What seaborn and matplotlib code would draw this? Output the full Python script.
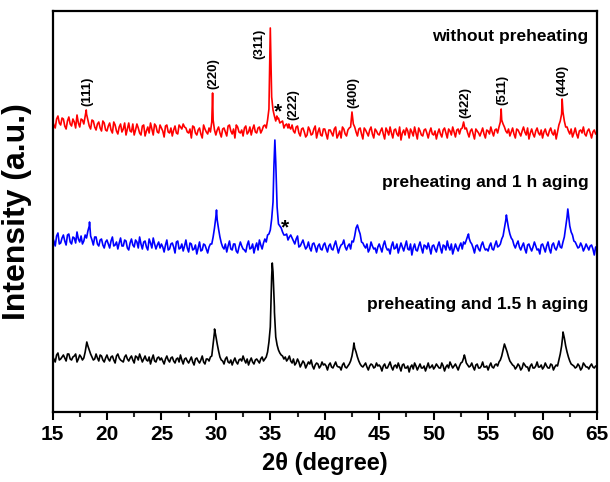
import numpy as np
import pandas as pd
import matplotlib
matplotlib.use("Agg")
import matplotlib.pyplot as plt
import seaborn as sns

# ---------------- data ----------------
# intensities (a.u., already offset per pattern) sampled every 0.25 deg from 15,
# plus readings halfway between (15.125, 15.375, ...) and the peak tops.
two_theta_start = 15.0
two_theta_step = 0.25

red_grid = [
    291, 284, 296, 287, 293, 283, 295, 286, 290, 297, 285, 292, 296, 292, 283, 291, 282, 290, 281, 289,
    281, 289, 279, 287, 278, 288, 283, 277, 289, 280, 277, 288, 279, 286, 276, 285, 289, 277, 286, 279,
    284, 275, 287, 279, 276, 286, 278, 285, 288, 284, 279, 274, 285, 277, 284, 274, 283, 278, 280, 292,
    277, 285, 275, 284, 276, 287, 278, 274, 285, 279, 276, 286, 280, 277, 287, 279, 285, 282, 287, 292,
    384, 302, 291, 294, 290, 284, 288, 285, 287, 279, 286, 276, 284, 275, 285, 277, 283, 274, 284, 276,
    283, 273, 282, 276, 285, 277, 274, 283, 276, 284, 300, 285, 276, 284, 273, 282, 276, 285, 274, 281,
    277, 284, 273, 281, 285, 274, 283, 276, 272, 282, 284, 274, 280, 285, 273, 281, 276, 283, 274, 284,
    277, 273, 283, 275, 284, 274, 281, 285, 275, 283, 283, 290, 284, 275, 283, 273, 281, 276, 284, 274,
    281, 285, 276, 283, 285, 292, 285, 279, 276, 284, 274, 282, 276, 285, 277, 273, 283, 275, 284, 277,
    274, 283, 276, 284, 277, 273, 287, 298, 291, 285, 278, 275, 284, 274, 282, 285, 276, 283, 274, 282,
    280,
]
red_mid = [
    287, 293, 289, 294, 286, 291, 288, 293, 284, 289, 293, 288, 298, 286, 292, 285, 288, 284, 291, 282,
    286, 282, 290, 281, 285, 280, 289, 283, 281, 288, 282, 284, 277, 287, 281, 279, 283, 288, 280, 287,
    281, 286, 280, 284, 282, 279, 287, 283, 285, 280, 283, 286, 279, 282, 278, 287, 280, 284, 290, 282,
    282, 279, 283, 280, 286, 281, 283, 287, 280, 282, 284, 278, 285, 283, 280, 284, 279, 286, 284, 303,
    315, 296, 293, 289, 291, 287, 284, 283, 281, 285, 279, 283, 280, 277, 282, 278, 286, 280, 277, 283,
    278, 282, 279, 283, 274, 281, 285, 278, 282, 285, 288, 280, 283, 278, 284, 279, 282, 278, 283, 278,
    281, 278, 284, 277, 279, 282, 278, 285, 279, 277, 281, 283, 276, 279, 284, 277, 282, 279, 280, 278,
    281, 279, 278, 282, 279, 283, 277, 280, 282, 278, 284, 283, 279, 281, 278, 283, 279, 280, 278, 282,
    278, 280, 282, 279, 290, 288, 281, 283, 280, 278, 283, 279, 281, 280, 284, 279, 278, 281, 279, 282,
    280, 278, 281, 279, 282, 280, 291, 300, 285, 281, 283, 279, 278, 281, 279, 278, 281, 279, 280, 278,
]
red_peak_x = [18.1, 29.7, 34.9, 35.1, 35.6, 36.7, 56.2, 61.8]
red_peak_y = [302, 319, 320, 325, 296, 288, 303, 313]

blue_grid = [
    175, 166, 179, 169, 177, 167, 178, 168, 174, 180, 170, 168, 177, 181, 176, 167, 175, 166, 173, 164,
    172, 164, 175, 167, 163, 174, 166, 171, 162, 173, 165, 170, 175, 163, 171, 162, 169, 174, 163, 170,
    168, 160, 172, 163, 169, 159, 171, 164, 161, 172, 160, 168, 163, 158, 170, 162, 167, 159, 168, 175,
    195, 183, 169, 163, 160, 171, 162, 168, 159, 170, 163, 160, 171, 164, 159, 169, 172, 163, 173, 177,
    182, 210, 250, 188, 184, 177, 178, 175, 174, 168, 176, 166, 172, 163, 170, 161, 169, 160, 168, 162,
    169, 160, 168, 162, 171, 159, 167, 172, 162, 168, 171, 176, 187, 178, 169, 164, 160, 170, 163, 159,
    168, 160, 171, 162, 158, 170, 164, 159, 169, 161, 171, 162, 157, 168, 161, 170, 159, 166, 169, 158,
    167, 160, 170, 159, 166, 171, 162, 158, 168, 161, 169, 170, 172, 174, 168, 159, 167, 161, 170, 162,
    161, 169, 162, 171, 166, 173, 184, 192, 178, 172, 164, 171, 162, 169, 159, 168, 161, 170, 162, 158,
    168, 160, 170, 159, 169, 162, 171, 164, 175, 195, 186, 177, 170, 164, 169, 161, 168, 162, 167, 157,
    163,
]
blue_mid = [
    171, 176, 168, 174, 171, 177, 170, 175, 169, 173, 176, 171, 174, 186, 172, 175, 168, 172, 167, 170,
    168, 171, 166, 170, 169, 166, 172, 164, 169, 167, 172, 164, 168, 170, 165, 173, 164, 168, 167, 164,
    165, 167, 162, 168, 165, 170, 163, 168, 166, 164, 169, 162, 167, 164, 161, 168, 163, 165, 168, 184,
    192, 175, 165, 168, 166, 163, 168, 161, 165, 166, 162, 167, 163, 168, 165, 162, 167, 169, 170, 178,
    193, 258, 205, 186, 180, 177, 172, 177, 171, 173, 165, 169, 167, 165, 164, 168, 165, 166, 163, 167,
    164, 166, 163, 167, 165, 164, 168, 165, 166, 163, 170, 184, 182, 170, 166, 168, 163, 166, 164, 165,
    164, 167, 165, 163, 166, 163, 168, 164, 165, 166, 163, 168, 164, 162, 166, 164, 167, 163, 164, 166,
    163, 166, 164, 167, 162, 165, 168, 163, 164, 166, 163, 168, 176, 170, 164, 166, 163, 167, 165, 163,
    166, 163, 167, 165, 168, 176, 192, 184, 174, 167, 168, 165, 166, 163, 167, 164, 165, 166, 163, 167,
    164, 166, 163, 167, 164, 166, 165, 170, 185, 198, 180, 171, 167, 165, 166, 164, 165, 166, 163, 165,
]
blue_peak_x = [18.4, 30.06, 35.33, 35.42, 35.6, 53.2, 56.68, 62.32]
blue_peak_y = [190, 202, 245, 272, 215, 178, 197, 203]

black_grid = [
    56, 50, 59, 53, 57, 51, 58, 52, 56, 50, 57, 52, 60, 66, 58, 52, 58, 51, 56, 50,
    57, 51, 56, 49, 58, 52, 50, 57, 51, 56, 49, 55, 58, 50, 56, 51, 48, 57, 50, 55,
    54, 48, 56, 50, 55, 49, 54, 57, 48, 54, 49, 55, 47, 54, 49, 56, 48, 53, 55, 68,
    76, 61, 52, 48, 55, 49, 47, 54, 48, 53, 56, 49, 47, 54, 48, 53, 49, 55, 53, 60,
    85, 140, 75, 62, 57, 53, 51, 56, 49, 47, 53, 45, 51, 44, 50, 52, 43, 49, 44, 50,
    48, 42, 49, 44, 50, 45, 42, 49, 44, 48, 56, 64, 55, 48, 45, 49, 42, 48, 44, 49,
    47, 41, 48, 44, 50, 42, 47, 49, 41, 48, 44, 40, 47, 49, 42, 48, 44, 41, 49, 45,
    43, 48, 44, 49, 41, 47, 50, 44, 48, 42, 49, 54, 49, 45, 49, 42, 48, 44, 50, 45,
    42, 49, 44, 48, 50, 56, 68, 60, 51, 47, 43, 48, 42, 49, 45, 41, 48, 44, 50, 45,
    43, 49, 44, 48, 42, 47, 52, 66, 74, 60, 51, 47, 44, 48, 42, 49, 45, 43, 48, 44,
    46,
]
black_mid = [
    53, 57, 52, 55, 54, 58, 53, 55, 58, 53, 55, 54, 68, 62, 55, 53, 54, 57, 52, 54,
    53, 55, 52, 56, 54, 51, 55, 53, 54, 52, 56, 52, 54, 53, 52, 55, 53, 51, 54, 52,
    51, 53, 52, 54, 51, 53, 50, 52, 53, 51, 52, 50, 53, 51, 52, 50, 53, 51, 56, 80,
    68, 55, 51, 53, 50, 52, 51, 50, 52, 51, 52, 53, 51, 50, 52, 51, 53, 51, 55, 70,
    135, 105, 67, 59, 56, 55, 53, 51, 53, 49, 50, 48, 49, 47, 48, 46, 47, 48, 46, 47,
    46, 47, 45, 47, 46, 45, 47, 45, 46, 51, 64, 60, 51, 46, 47, 45, 46, 47, 45, 46,
    45, 46, 44, 47, 45, 46, 44, 45, 47, 44, 46, 45, 43, 46, 45, 44, 46, 45, 44, 47,
    45, 46, 44, 46, 45, 44, 47, 46, 45, 46, 50, 55, 47, 46, 45, 47, 44, 46, 45, 46,
    46, 45, 47, 46, 52, 62, 64, 55, 49, 46, 45, 46, 44, 47, 45, 46, 44, 46, 45, 47,
    45, 46, 44, 47, 45, 46, 58, 78, 66, 55, 48, 46, 45, 46, 44, 47, 45, 46, 45, 46,
]
black_peak_x = [18.15, 29.88, 35.1, 35.18, 35.38, 42.68, 52.82, 61.88]
black_peak_y = [70, 83, 125, 149, 100, 69, 57, 80]

series_names = ["without preheating", "preheating and 1 h aging", "preheating and 1.5 h aging"]
series_colors = ["#ff0000", "#0000ff", "#000000"]

hkl_labels = ["(111)", "(220)", "(311)", "(222)", "(400)", "(422)", "(511)", "(440)"]
x_ticks = [15, 20, 25, 30, 35, 40, 45, 50, 55, 60, 65]

# ---------------- build table ----------------
def build(grid, mid, px, py, name):
    gx = two_theta_start + two_theta_step * np.arange(len(grid))
    mx = two_theta_start + two_theta_step * (np.arange(len(mid)) + 0.5)
    x = np.concatenate([gx, mx, np.asarray(px, float)])
    y = np.concatenate([np.asarray(grid, float), np.asarray(mid, float), np.asarray(py, float)])
    order = np.argsort(x, kind="stable")
    return pd.DataFrame({"two_theta": x[order], "intensity": y[order], "sample": name})

df = pd.concat([
    build(red_grid, red_mid, red_peak_x, red_peak_y, series_names[0]),
    build(blue_grid, blue_mid, blue_peak_x, blue_peak_y, series_names[1]),
    build(black_grid, black_mid, black_peak_x, black_peak_y, series_names[2]),
], ignore_index=True)

# ---------------- plot ----------------
sns.set_theme(style="white")
plt.rcParams["font.family"] = ["Liberation Sans", "DejaVu Sans"]
plt.rcParams["font.weight"] = "bold"

fig = plt.figure(figsize=(6.10, 4.82), dpi=100)
ax = fig.add_axes([52.5 / 610, 70 / 482, 544.5 / 610, 401 / 482])

for name, col in zip(series_names, series_colors):
    sub = df[df["sample"] == name]
    sns.lineplot(data=sub, x="two_theta", y="intensity", color=col, lw=1.2,
                 sort=False, estimator=None, ax=ax, legend=False)

ax.set_xlim(15, 65)
ax.set_ylim(0, 401)
ax.set_xticks(x_ticks)
ax.set_xticklabels([str(t) for t in x_ticks], fontsize=15, fontweight="bold")
ax.set_xticks(np.arange(17.5, 65, 5), minor=True)
ax.set_yticks([])
ax.tick_params(axis="x", which="major", direction="out", length=6, width=1.5,
               bottom=True, pad=3, colors="black")
ax.tick_params(axis="x", which="minor", direction="out", length=3.5, width=1.5, bottom=True)
for s in ax.spines.values():
    s.set_linewidth(1.6)
    s.set_color("black")

ax.set_xlabel("2θ (degree)", fontsize=17, fontweight="bold", labelpad=6, color="black")
ax.set_ylabel("Intensity (a.u.)", fontsize=23, fontweight="bold", color="black")
ax.yaxis.set_label_coords(-0.038, 0.5)

# series labels
label_y = [375, 229, 108]
for name, yy in zip(series_names, label_y):
    ax.text(64.2, yy, name, ha="right", va="center", fontsize=12.5, fontweight="bold", color="black")

# hkl labels
hkl_pos = [(18.17, 321), (29.74, 338), (33.96, 368), (37.08, 307),
           (42.59, 319), (52.88, 309), (56.27, 322), (61.78, 332)]
for lab, (xx, yy) in zip(hkl_labels, hkl_pos):
    ax.text(xx, yy, lab, rotation=90, ha="center", va="center", fontsize=9.5,
            fontweight="bold", color="black")

# impurity markers
for xx, yy in [(35.71, 300), (36.35, 184)]:
    ax.text(xx, yy, "*", ha="center", va="center", fontsize=15, fontweight="bold", color="black")

fig.savefig("out.png", dpi=100)
